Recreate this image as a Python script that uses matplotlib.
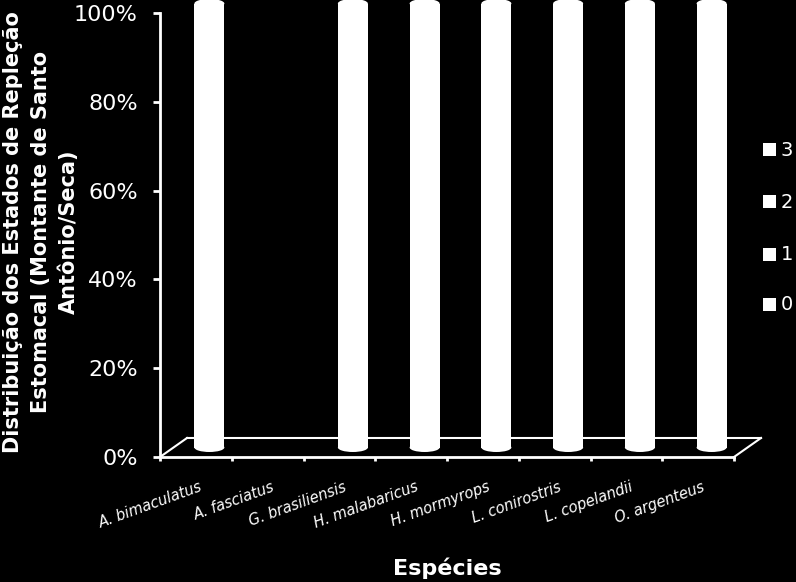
import matplotlib
matplotlib.use("Agg")
import matplotlib.pyplot as plt
from matplotlib.patches import Rectangle, Ellipse
import numpy as np

species = ["A. bimaculatus", "A. fasciatus", "G. brasiliensis", "H. malabaricus",
           "H. mormyrops", "L. conirostris", "L. copelandii", "O. argenteus"]
stage_labels = ["0", "1", "2", "3"]
# Counts per repletion stage (segments are all drawn white, as in the reference)
stage0 = [1, 0, 1, 1, 1, 1, 1, 1]
stage1 = [0, 0, 0, 0, 0, 0, 0, 0]
stage2 = [0, 0, 0, 0, 0, 0, 0, 0]
stage3 = [0, 0, 0, 0, 0, 0, 0, 0]
yticks = [0, 0.2, 0.4, 0.6, 0.8, 1.0]
ytick_labels = ["0%", "20%", "40%", "60%", "80%", "100%"]

W, H = 796, 582
fig = plt.figure(figsize=(W / 100, H / 100), dpi=100, facecolor="black")
ax = fig.add_axes([160 / W, 1 - 457 / H, (734 - 160) / W, (457 - 13) / H])
ax.set_facecolor("none")

n = len(species)
ax.set_xlim(0, n)
ax.set_ylim(0, 1)

# 3D depth offsets (in data units)
px_x = (734 - 160) / n
px_y = 457 - 13
ddx = 27 / px_x
ddy = 19 / px_y

# floor
ax.plot([0, ddx], [0, ddy], color="white", lw=1.5, clip_on=False, zorder=1)
ax.plot([n, n + ddx], [0, ddy], color="white", lw=1.5, clip_on=False, zorder=1)
ax.plot([ddx, n + ddx], [ddy, ddy], color="white", lw=1.5, clip_on=False, zorder=1)

# cylinders
data = np.array([stage0, stage1, stage2, stage3], dtype=float)
totals = data.sum(axis=0)
cw = 30 / px_x
eh = 9 / px_y
for i in range(n):
    if totals[i] == 0:
        continue
    fr = data[:, i] / totals[i]
    cx = i + 0.5 + ddx / 2
    base = ddy / 2
    bottom = 0.0
    for k in range(len(fr)):
        if fr[k] <= 0:
            continue
        y0 = base + bottom
        y1 = base + bottom + fr[k]
        ax.add_patch(Rectangle((cx - cw / 2, y0), cw, fr[k], facecolor="white",
                               edgecolor="none", clip_on=False, zorder=3))
        ax.add_patch(Ellipse((cx, y0), cw, eh, facecolor="white", edgecolor="none",
                             clip_on=False, zorder=3))
        ax.add_patch(Ellipse((cx, y1), cw, eh, facecolor="white", edgecolor="none",
                             clip_on=False, zorder=3))
        bottom += fr[k]

# axes styling
for s in ["top", "right"]:
    ax.spines[s].set_visible(False)
for s in ["left", "bottom"]:
    ax.spines[s].set_color("white")
    ax.spines[s].set_linewidth(2)
    ax.spines[s].set_zorder(2)

ax.set_yticks(yticks)
ax.set_yticklabels(ytick_labels)
ax.tick_params(axis="y", colors="white", length=5, width=2, labelsize=16, pad=11)
ax.set_xticks(np.arange(n + 1))
ax.set_xticklabels([])
ax.tick_params(axis="x", colors="white", length=3, width=2)

for i, name in enumerate(species):
    ax.text(i + 0.55, -0.05, name, rotation=20, rotation_mode="anchor",
            ha="right", va="top", color="white", fontsize=10.5, style="italic",
            clip_on=False)

fig.text(447 / W, 1 - 568 / H, "Espécies", color="white", fontsize=16,
         fontweight="bold", ha="center", va="center")
fig.text(41 / W, 1 - 232 / H,
         "Distribuição dos Estados de Repleção\nEstomacal (Montante de Santo\nAntônio/Seca)",
         color="white", fontsize=15, fontweight="bold", rotation=90,
         ha="center", va="center", multialignment="center", linespacing=1.45)

# legend
leg_y = [150, 202, 255, 305]
for lab, yy in zip(stage_labels[::-1], leg_y):
    fig.patches.append(Rectangle((763 / W, 1 - (yy + 6) / H), 13 / W, 13 / H,
                                 transform=fig.transFigure, facecolor="white",
                                 edgecolor="none"))
    fig.text(781 / W, 1 - yy / H, lab, color="white", fontsize=14,
             ha="left", va="center")

fig.savefig("out.png", dpi=100, facecolor="black")
